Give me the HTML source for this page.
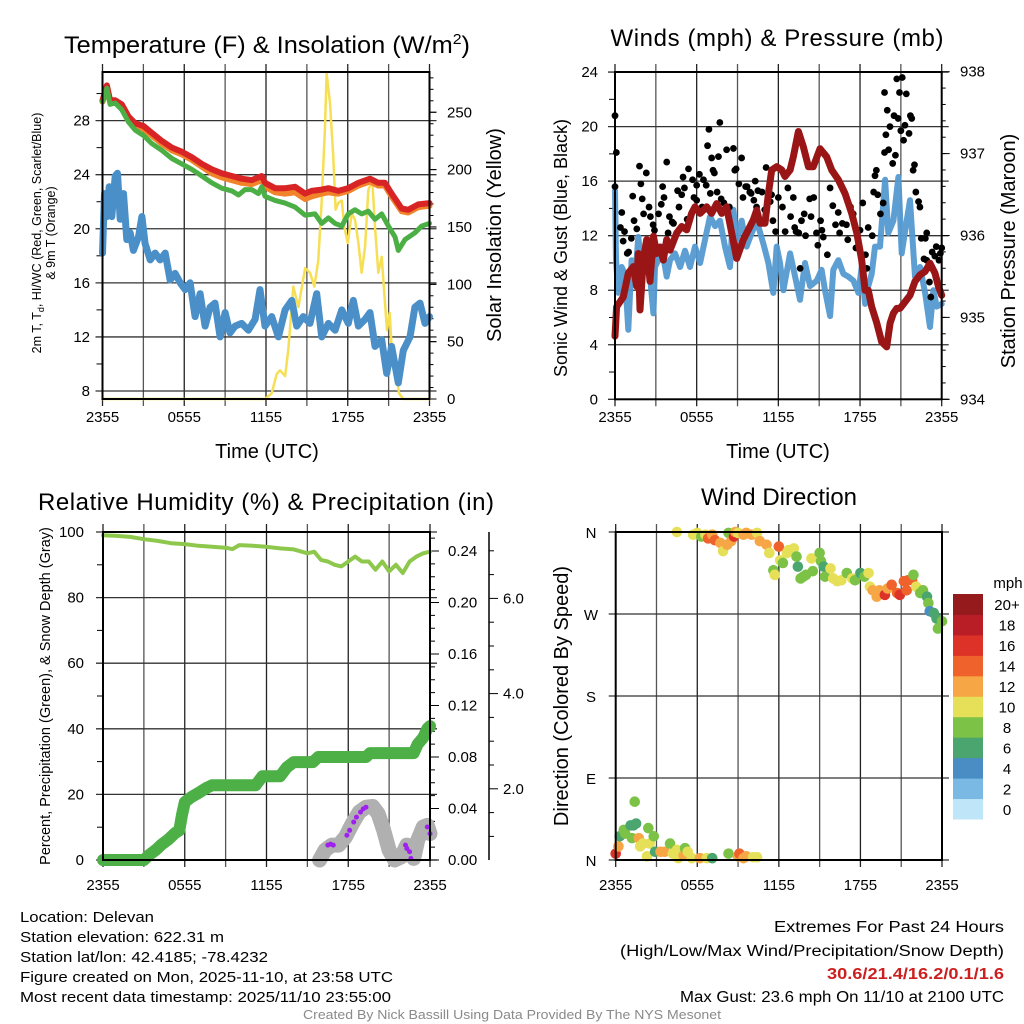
<!DOCTYPE html>
<html><head><meta charset="utf-8"><title>Delevan Mesonet Meteogram</title>
<style>
html,body{margin:0;padding:0;background:#fff;}
svg{display:block;font-family:"Liberation Sans",Arial,sans-serif;}
</style></head>
<body>
<svg id="chart" width="1024" height="1024" viewBox="0 0 1024 1024" xmlns="http://www.w3.org/2000/svg"></svg>
<script>
// ---------------- DATA ----------------
const tempRedHour = [0,.32,.56,.93,1.42,1.91,2.40,3.01,3.62,4.35,5.09,5.82,6.55,7.29,8.02,8.75,9.49,10.22,10.95,11.69,11.93,12.67,13.40,14.13,14.87,15.35,16.09,16.58,17.31,18.04,18.78,19.63,20.24,20.73,21.22,21.96,22.44,23.18,24];
const tempRed = [29.5,30.6,29.5,29.5,29.2,28.3,27.8,27.6,27.1,26.5,26.0,25.7,25.3,24.8,24.4,24.1,23.9,23.7,23.6,23.9,23.4,23.0,23.0,23.1,22.6,22.8,22.9,23.0,22.8,23.0,23.4,23.7,23.4,23.4,22.6,21.5,21.4,21.8,21.9];
const tempOrange = [29.4,30.4,29.4,29.4,29.1,28.2,27.6,27.4,26.9,26.3,25.8,25.5,25.1,24.6,24.1,23.8,23.6,23.4,23.3,23.6,23.1,22.7,22.6,22.7,22.2,22.4,22.6,22.7,22.6,22.8,23.2,23.5,23.2,23.2,22.4,21.3,21.2,21.6,21.7];
const tempGreenHour = [0,.32,.56,.93,1.42,1.91,2.40,3.01,3.62,4.35,5.09,5.82,6.55,7.29,8.02,8.75,9.49,9.98,10.46,10.95,11.44,11.69,11.93,12.67,13.40,14.13,14.87,15.60,16.09,16.58,17.07,17.56,18.04,18.53,19.02,19.51,20.0,20.49,20.98,21.47,21.71,22.20,22.93,23.42,24];
const tempGreen = [29.4,30.4,29.2,29.3,28.8,27.9,27.3,26.9,26.3,25.8,25.2,24.8,24.4,23.9,23.4,23.0,22.8,22.5,22.9,22.9,22.6,23.1,22.4,22.1,21.9,21.6,21.0,21.1,20.4,20.8,20.4,20.2,21.1,21.4,21.1,21.3,20.7,21.1,20.2,19.4,18.4,19.2,19.7,20.2,20.4];
const dewHour = [0,.15,.32,.49,.68,.93,1.10,1.30,1.54,1.78,2.03,2.27,2.64,2.89,3.13,3.50,3.86,4.23,4.60,4.96,5.33,5.70,6.06,6.43,6.80,7.16,7.53,7.90,8.26,8.63,9.0,9.36,9.73,10.22,10.71,11.20,11.56,11.93,12.42,12.91,13.40,13.89,14.25,14.74,15.23,15.72,16.09,16.58,17.07,17.56,18.04,18.41,18.78,19.27,19.63,20.0,20.49,20.86,21.22,21.71,22.08,22.57,22.93,23.30,23.67,24];
const dewPoint = [18.2,22.6,20.9,23.1,20.9,23.9,24.1,20.7,22.6,19.2,19.7,18.4,19.4,20.9,18.9,17.7,18.2,17.7,18.2,16.2,16.7,16.0,15.5,16.0,13.5,15.2,12.8,14.2,14.5,12.0,13.8,12.3,12.8,13.0,12.5,13.3,15.5,12.8,13.5,12.0,14.0,14.7,12.8,13.5,13.0,15.2,12.0,13.0,12.5,14.0,13.0,14.7,12.8,13.3,13.8,11.3,11.8,9.3,11.3,8.6,11.0,12.0,14.2,14.5,13.0,13.5];
const solarHour = [0,11.93,12.42,12.79,13.03,13.40,13.64,14.0,14.38,14.87,15.23,15.55,15.84,16.09,16.33,16.45,16.70,16.94,17.11,17.31,17.56,17.75,18.0,18.29,18.53,18.78,19.02,19.27,19.51,19.80,20.0,20.24,20.49,20.68,20.88,21.08,21.30,21.59,21.76,22.08,24];
const solar = [0,0,5,22,25,20,43,98,80,114,110,98,121,173,237,284,258,211,165,171,173,150,136,162,156,136,110,133,182,191,150,110,124,92,60,75,28,20,5,0,0];
const p1TempTicks = [8,12,16,20,24,28];
const p1SolarTicks = [0,50,100,150,200,250];
const timeTickHours = [0,6,12,18,24];
const timeTickLabels = ["2355","0555","1155","1755","2355"];

const windHour = [0,.07,.24,.49,.73,.98,1.22,1.47,1.71,1.96,2.33,2.82,2.94,3.18,3.43,3.80,4.04,4.41,4.78,5.14,5.51,5.88,6.25,6.61,6.98,7.35,7.71,8.08,8.45,8.69,8.94,9.31,9.67,10.04,10.41,10.90,11.27,11.63,11.88,12.12,12.37,12.86,13.23,13.59,13.96,14.33,14.82,15.18,15.43,15.80,16.04,16.41,16.78,17.14,17.51,17.88,18.12,18.37,18.61,18.86,19.10,19.47,19.84,20.08,20.45,20.82,21.06,21.43,21.67,22.04,22.41,22.78,23.14,23.39,23.63,24];
const windSpeed = [15.3,10.2,7.8,9.7,9.2,5.1,10.2,8.7,11.9,9.7,11.7,6.3,9.7,10.2,11.2,9.0,10.2,10.7,9.7,10.9,9.7,11.2,10.0,11.7,13.4,12.7,13.1,11.2,9.7,13.9,11.7,13.1,11.2,12.2,13.1,11.4,10.0,7.8,11.2,10.0,8.0,10.7,9.0,7.3,10.0,8.3,8.7,9.5,8.0,6.1,9.5,10.2,9.2,9.0,8.7,7.8,9.7,7.0,8.3,9.2,11.2,11.2,16.1,12.2,13.1,16.3,10.7,13.1,14.6,9.0,9.7,7.8,5.3,8.0,6.8,7.0];
const gustHour = [0,0.1,0,0.4,0.5,0.6,0.7,0.9,1.0,1.2,1.3,1.4,1.6,1.8,1.9,2.0,2.1,2.3,2.5,2.6,2.8,2.9,3.2,3.4,3.5,3.6,3.8,3.9,4.0,4.2,4.3,4.6,4.7,4.9,5.0,5.1,5.3,5.4,5.7,5.8,6.0,6.0,6.2,6.4,6.5,6.7,6.8,6.9,7.0,7.1,7.2,7.3,7.5,7.6,7.7,7.8,8.0,8.2,8.4,8.7,8.8,8.9,9.1,9.3,9.4,9.6,9.7,9.9,10.0,10.2,10.3,10.4,10.5,10.8,11.0,11.1,11.4,11.5,11.6,11.8,12.0,12.3,12.5,12.7,12.9,13.1,13.2,13.3,13.5,13.6,13.7,13.9,14.0,14.3,14.4,14.6,14.8,14.9,15.1,15.2,15.3,15.6,15.8,16.0,16.2,16.4,16.5,16.7,17.0,17.1,17.3,17.5,17.7,17.8,18.0,18.2,18.4,18.5,18.6,18.9,19.0,19.1,19.2,19.3,19.5,19.7,19.8,19.8,19.9,20.0,20.1,20.2,20.4,20.5,20.6,20.7,20.8,20.9,21.0,21.1,21.2,21.3,21.4,21.6,21.7,21.8,21.9,22.0,22.1,22.3,22.4,22.5,22.7,22.8,22.9,22.9,23.1,23.2,23.3,23.5,23.6,23.8,23.9,24.0];
const gustSpeed = [20.8,18.1,15.6,12.6,13.7,11.6,12.3,10.7,10.8,11.8,14.9,13.1,12.5,17.1,15.8,14.7,13.6,16.6,14.1,13.4,12.8,12.4,13.6,14.3,15.6,14.8,17.4,12.2,13.4,13.0,12.9,15.3,14.1,15.0,16.3,15.5,13.2,16.9,16.1,14.8,14.6,15.7,16.5,14.1,16.1,15.7,18.6,19.8,15.1,17.7,16.8,16.6,15.2,17.8,20.3,14.7,14.4,18.3,14.1,18.4,16.8,16.9,15.8,17.7,14.8,15.6,15.6,15.2,15.1,14.6,16.0,14.1,15.3,15.2,13.9,17.0,14.5,15.0,13.1,12.3,14.8,14.1,12.3,15.5,13.4,14.8,12.6,12.3,12.2,9.6,13.1,13.6,12.0,14.7,13.4,14.8,12.2,11.3,13.1,12.4,11.9,10.6,15.5,14.2,12.8,13.7,12.2,12.9,12.8,11.7,14.1,13.6,11.1,12.0,12.4,14.4,10.6,9.6,12.6,12.0,15.2,16.4,16.8,15.0,13.6,14.4,18.1,22.5,19.4,21.2,18.3,20.0,17.3,20.8,17.9,23.5,20.6,22.5,19.7,23.6,19.0,20.1,22.4,19.5,20.8,20.6,16.8,17.2,15.2,14.5,14.1,11.8,10.3,11.8,12.2,10.2,8.6,7.5,10.8,10.5,11.2,10.2,10.7,11.1];
const presHour = [0,.12,.61,.98,1.35,1.59,1.71,1.84,2.08,2.33,2.57,2.82,3.06,3.31,3.55,3.80,4.04,4.53,4.90,5.27,5.63,5.88,6.25,6.74,7.10,7.47,7.84,8.20,8.57,8.94,9.43,9.92,10.16,10.41,10.65,11.02,11.27,11.51,11.88,12.25,12.49,12.86,13.10,13.47,13.84,14.21,14.57,15.06,15.55,15.92,16.41,16.90,17.39,17.76,18.12,18.37,18.61,18.86,19.23,19.59,19.96,20.21,20.45,20.70,20.94,21.31,21.67,22.04,22.41,22.78,23.14,23.51,23.76,24];
const pressure = [934.77,935.13,935.25,935.54,935.62,935.38,935.78,935.09,935.70,935.95,935.44,935.99,935.78,935.86,935.70,935.95,935.82,936.03,936.11,936.07,936.27,936.35,936.27,936.35,936.27,936.39,936.27,936.35,936.03,935.72,935.95,936.11,936.19,936.31,936.15,936.15,936.51,936.80,936.84,936.80,936.72,936.80,936.96,937.27,937.08,936.84,936.84,937.06,936.96,936.80,936.68,936.51,936.27,936.03,935.70,935.33,935.33,935.13,934.93,934.70,934.64,934.93,935.05,935.11,935.11,935.19,935.27,935.44,935.52,935.56,935.66,935.54,935.38,935.27];
const windTicks = [0,4,8,12,16,20,24];
const presTicks = [934,935,936,937,938];

const rhHour = [0,1,2,3,4,5,6,7,8,9,9.5,10,11,12,13,14,15,15.5,16,16.5,17,17.5,18,18.5,19,19.5,20,20.5,21,21.5,22,22.5,23,23.5,24];
const rh = [99,98.8,98.5,97.8,97.3,96.6,96.3,95.8,95.5,95.2,94.8,96,95.8,95.5,95,94.7,93.5,94,91.5,91,90,89.5,91,92.5,91,91,88.5,91,88,90,87.5,91,92.5,93.5,94];
const precipHour = [0,3.0,3.4,3.9,4.3,4.8,5.3,5.6,5.8,6.0,6.5,7.0,7.6,8.0,11.2,11.7,13.0,13.5,14.0,15.4,15.8,19.3,19.6,22.8,23.1,23.5,23.8,24];
const precip = [0,0,0.004,0.008,0.012,0.016,0.021,0.023,0.035,0.045,0.049,0.052,0.056,0.058,0.058,0.065,0.065,0.072,0.076,0.076,0.080,0.080,0.083,0.083,0.090,0.095,0.102,0.104];
const snowHour = [15.9,16.3,16.8,17.3,17.8,18.3,18.8,19.3,19.8,20.2,20.6,21.0,21.4,21.9,22.3,22.8,23.1,23.5,23.8,24.0];
const snowDepth = [0,0.3,0.45,0.45,0.7,1.1,1.45,1.6,1.62,1.4,0.9,0.3,0,0.1,0.45,0.05,0.6,1.0,1.05,0.8];
const snowObsHour = [16.5,16.7,16.9,17.9,18.1,18.4,18.6,18.9,19.1,19.3,22.2,22.3,22.5,22.6,23.8,24.0];
const snowObs = [0.45,0.48,0.45,0.75,0.9,1.15,1.3,1.45,1.55,1.6,0.45,0.35,0.25,0.05,1.0,0.8];
const rhTicks = [0,20,40,60,80,100];
const precipTicks = [0,0.04,0.08,0.12,0.16,0.20,0.24];
const snowTickLabels = ["2.0","4.0","6.0"];

const dirHour = [0.0,0.2,0.3,0.6,0.7,1.1,1.2,1.3,1.5,1.4,1.7,1.8,2.0,2.3,2.4,2.5,2.8,2.9,3.3,3.6,4.0,4.2,4.5,4.6,5.0,5.1,5.3,5.6,6.2,6.7,7.1,8.3,9.0,9.1,9.4,9.6,10.1,10.4,
 4.5,5.7,6.0,6.3,6.6,6.8,7.1,7.3,7.7,7.9,8.2,8.3,8.5,8.7,8.8,9.0,9.4,9.6,10.0,10.4,10.6,11.1,11.3,11.6,11.7,12.0,12.1,12.3,12.6,12.7,13.1,13.3,13.4,13.6,13.8,14.0,14.4,14.5,15.0,15.1,15.3,15.4,15.8,16.0,16.3,16.6,17.0,17.4,17.6,18.0,18.3,18.6,18.7,18.9,19.2,19.4,19.8,20.0,20.3,20.7,20.9,21.2,21.4,21.5,21.8,21.9,22.1,22.4,22.6,22.9,23.0,23.1,23.4,23.6,23.7,24.0];
const dirDeg = [7,15,26,33,29,38,24,38,40,64,24,15,18,4,35,18,26,9,9,9,18,7,11,2,5,13,9,2,2,2,2,7,4,7,2,4,3,3,
 360,357,359,355,357,353,357,351,348,339,346,359,350,355,360,359,357,359,357,359,350,346,337,318,313,344,329,326,337,340,342,333,322,309,311,313,331,317,337,328,322,311,320,309,306,307,315,309,307,315,311,315,300,296,289,296,291,298,302,293,291,306,296,307,307,313,300,293,296,289,282,273,271,265,254,262];
const dirSpeed = [16,12,6,8,8,6,8,6,6,8,13,10,10,10,8,10,8,6,12,13,8,10,10,10,12,8,10,10,12,10,6,8,12,14,12,12,10,10,
 10,10,10,8,10,14,12,14,12,10,12,8,12,16,12,10,12,12,12,10,12,12,10,8,10,14,10,8,10,10,10,8,6,8,8,8,10,8,8,8,6,8,10,10,10,10,8,10,8,6,8,10,10,12,12,12,16,12,14,14,16,14,14,14,14,8,10,8,8,6,8,4,6,6,8,8];
const dirTickDeg = [0,90,180,270,360];
const dirTickLabels = ["N","E","S","W","N"];
const speedBinLabels = ["0","2","4","6","8","10","12","14","16","18","20+"];
const speedBinColors = ["#bfe6f8","#7ab9e3","#4a8cc4","#4aa56f","#7cc246","#e6e058","#f6a645","#ef622b","#dd3227","#b91d25","#941a1c"];

// ---------------- DRAWING ----------------
const NS = "http://www.w3.org/2000/svg";
const svg = document.getElementById('chart');
function mk(tag, attrs, parent){
  const e = document.createElementNS(NS, tag);
  for (const k in attrs) e.setAttribute(k, attrs[k]);
  (parent || svg).appendChild(e);
  return e;
}
function txt(x, y, s, size, anchor, parent){
  const t = mk('text', {x:x, y:y, 'font-size':size, 'text-anchor':anchor||'middle', fill:'#000'}, parent);
  t.textContent = s;
  return t;
}
function poly(pts){ return pts.map(p => p[0].toFixed(1)+','+p[1].toFixed(1)).join(' '); }

const P1 = {x0:102.5, x1:429.5, y0:72, y1:399};
const P2 = {x0:615, x1:941.7, y0:72, y1:399.3};
const P3 = {x0:103, x1:430, y0:532, y1:860};
const P4 = {x0:615.7, x1:942, y0:532, y1:860};
const hx = (P, h) => P.x0 + h * (P.x1 - P.x0) / 24;
const tempY = v => 391 - (v - 8) * 13.52;
const solY = v => 399 - v * 1.147;
const mphY = v => 399.3 - v * 13.635;
const presY = v => 399.3 - (v - 934) * 81.9;
const pctY = v => 860 - v * 3.28;
const precY = v => 860 - v * 1287.5;
const snowY = v => 860 - v * 33;
const snowAxisY = v => 884 - v * 47.6;
const degY = v => 860 - v * 0.9111;

function grid(P, name, hTicksY){
  const g = mk('g', {});
  
  
  for (let h = 0; h <= 24; h += 3){
    const x = hx(P, h);
    const l = mk('line', {x1:x, x2:x, y1:P.y0-8, y2:P.y1+7, stroke:(h%6==0?'#222':'#555'), 'stroke-width':1.3}, g);
    
    
  }
  hTicksY.forEach(y => {
    const l = mk('line', {x1:P.x0-7, x2:P.x1+7, y1:y, y2:y, stroke:'#333', 'stroke-width':1.3}, g);
    
    
  });
  return g;
}
function frame(P, name){
  const r = mk('rect', {x:P.x0, y:P.y0, width:P.x1-P.x0, height:P.y1-P.y0, fill:'none', stroke:'#000', 'stroke-width':2});
  
  
}
function timeLabels(P, y, name){
  timeTickHours.forEach((h, i) => {
    const t = txt(hx(P, h), y, timeTickLabels[i], 15);
    
    
  });
}
function tickMark(x1, y1, x2, y2, name){
  const l = mk('line', {x1:x1, y1:y1, x2:x2, y2:y2, stroke:'#000', 'stroke-width':1});
  
  
}
function drawLine(xs, ys, color, w, name, opacity){
  const p = mk('polyline', {points: poly(xs.map((x, i) => [x, ys[i]])), fill:'none', stroke:color, 'stroke-width':w, 'stroke-linejoin':'round', 'stroke-linecap':'round', opacity: opacity||1});
  
  
  return p;
}

// ===== Panel 1 =====
grid(P1, 'temp-panel', p1TempTicks.map(tempY));
for (let v = 10; v <= 30; v += 4) tickMark(P1.x0-6, tempY(v), P1.x0, tempY(v), 'temp-minor-tick');
for (let v = 10; v <= 280; v += 10){ const maj = v % 50 == 0; tickMark(P1.x1, solY(v), P1.x1 + (maj?7:4), solY(v), 'solar-tick'); }
p1SolarTicks.forEach(v => tickMark(P1.x1, solY(v), P1.x1+7, solY(v), 'solar-major-tick'));
drawLine(solarHour.map(h => hx(P1, h)), solar.map(solY), '#f6df55', 2.5, 'solar-insolation-line');
drawLine(dewHour.map(h => hx(P1, h)), dewPoint.map(tempY), '#4a8fc7', 7, 'dewpoint-line');
drawLine(tempRedHour.map(h => hx(P1, h)), tempOrange.map(tempY), '#f1842a', 6, 'temp-9m-orange-line');
drawLine(tempRedHour.map(h => hx(P1, h)), tempRed.map(tempY), '#d82424', 6, 'temp-2m-red-line');
drawLine(tempGreenHour.map(h => hx(P1, h)), tempGreen.map(tempY), '#4caf46', 5, 'heat-index-green-line');
frame(P1, 'temp-panel');
p1TempTicks.forEach(v => { const t = txt(90, tempY(v)+5, String(v), 15, 'end');   });
p1SolarTicks.forEach(v => { const t = txt(447, solY(v)+5, String(v), 15, 'start');   });
timeLabels(P1, 422, 'temp-panel');
let t;
t = mk('text', {x:267, y:53, 'font-size':24, 'text-anchor':'middle', textLength:406, lengthAdjust:'spacingAndGlyphs'});
t.innerHTML = 'Temperature (F) &amp; Insolation (W/m<tspan dy="-9" font-size="15">2</tspan><tspan dy="9">)</tspan>';


t = txt(267, 458, 'Time (UTC)', 20);


t = mk('text', {x:0, y:0, 'font-size':12.5, 'text-anchor':'middle', transform:'translate(41,233) rotate(-90)'});
t.innerHTML = '2m T, T<tspan dy="3" font-size="9">d</tspan><tspan dy="-3">, HI/WC (Red, Green, Scarlet/Blue)</tspan>';


t = mk('text', {x:0, y:0, 'font-size':12.5, 'text-anchor':'middle', transform:'translate(55,233) rotate(-90)'});
t.textContent = '& 9m T (Orange)';


t = mk('text', {x:0, y:0, 'font-size':20, 'text-anchor':'middle', transform:'translate(501,235) rotate(-90)'});
t.textContent = 'Solar Insolation (Yellow)';



// ===== Panel 2 =====
grid(P2, 'wind-panel', windTicks.map(mphY));
for (let v = 2; v <= 22; v += 4) tickMark(P2.x0-6, mphY(v), P2.x0, mphY(v), 'wind-minor-tick');
for (let v = 934.2; v < 938; v += 0.2) tickMark(P2.x1, presY(v), P2.x1+4, presY(v), 'pressure-minor-tick');
presTicks.forEach(v => tickMark(P2.x1, presY(v), P2.x1+8, presY(v), 'pressure-major-tick'));
drawLine(windHour.map(h => hx(P2, h)), windSpeed.map(mphY), '#5499d1', 6, 'sonic-wind-line', 0.95);
gustHour.forEach((h, i) => {
  const c = mk('circle', {cx:hx(P2, h), cy:mphY(gustSpeed[i]), r:3.4, fill:'#000'});
  
  
});
drawLine(presHour.map(h => hx(P2, h)), pressure.map(presY), '#9a1616', 7, 'pressure-line');
frame(P2, 'wind-panel');
windTicks.forEach(v => { const e = txt(598, mphY(v)+5, String(v), 15, 'end');   });
presTicks.forEach(v => { const e = txt(960, presY(v)+5, String(v), 15, 'start');   });
timeLabels(P2, 422, 'wind-panel');
t = txt(777, 46, 'Winds (mph) & Pressure (mb)', 24);
t.setAttribute('textLength', 333);


t = txt(778, 458, 'Time (UTC)', 20);


t = mk('text', {x:0, y:0, 'font-size':18, 'text-anchor':'middle', transform:'translate(567,248) rotate(-90)'});
t.textContent = 'Sonic Wind & Gust (Blue, Black)';


t = mk('text', {x:0, y:0, 'font-size':20, 'text-anchor':'middle', transform:'translate(1015,251) rotate(-90)'});
t.textContent = 'Station Pressure (Maroon)';



// ===== Panel 3 =====
grid(P3, 'humidity-panel', rhTicks.map(pctY));
for (let v = 10; v <= 90; v += 20) tickMark(P3.x0-6, pctY(v), P3.x0, pctY(v), 'rh-minor-tick');
for (let v = 0.01; v < 0.255; v += 0.01) tickMark(P3.x1, precY(v), P3.x1+5, precY(v), 'precip-minor-tick');
precipTicks.forEach(v => tickMark(P3.x1, precY(v), P3.x1+9, precY(v), 'precip-major-tick'));
t = mk('line', {x1:489, x2:489, y1:532, y2:860, stroke:'#000', 'stroke-width':1.5});


for (let v = 0.5; v <= 7; v += 0.5){ const y = snowAxisY(v); if (y >= 532 && y <= 860) tickMark(489, y, 489 + (v % 2 == 0 ? 9 : 5), y, 'snow-tick'); }
drawLine(precipHour.map(h => hx(P3, h)), precip.map(precY), '#4cb046', 12, 'precipitation-line');
drawLine(snowHour.map(h => hx(P3, h)), snowDepth.map(snowY), '#b0b0b0', 15, 'snow-depth-line');
snowObsHour.forEach((h, i) => {
  const c = mk('circle', {cx:hx(P3, h), cy:snowY(snowObs[i]), r:2.5, fill:'#a020f0'});
  
  
});
drawLine(rhHour.map(h => hx(P3, h)), rh.map(pctY), '#8dc84d', 4, 'relative-humidity-line');
frame(P3, 'humidity-panel');
rhTicks.forEach(v => { const e = txt(84, pctY(v)+5, String(v), 15, 'end');   });
precipTicks.forEach(v => { const e = txt(448, precY(v)+5, v.toFixed(2), 15, 'start');   });
snowTickLabels.forEach(s => { const e = txt(503, snowAxisY(parseFloat(s))+5, s, 15, 'start');   });
timeLabels(P3, 890, 'humidity-panel');
t = txt(266, 510, 'Relative Humidity (%) & Precipitation (in)', 24);
t.setAttribute('textLength', 456);


t = mk('text', {x:0, y:0, 'font-size':14.5, 'text-anchor':'middle', transform:'translate(50,696) rotate(-90)'});
t.textContent = 'Percent, Precipitation (Green), & Snow Depth (Gray)';



// ===== Panel 4 =====
grid(P4, 'direction-panel', dirTickDeg.map(degY));
dirHour.forEach((h, i) => {
  const bin = Math.min(10, Math.floor(dirSpeed[i] / 2));
  const c = mk('circle', {cx:hx(P4, h), cy:degY(dirDeg[i]), r:5.3, fill:speedBinColors[bin]});
  
  
});
frame(P4, 'direction-panel');
dirTickDeg.forEach((d, i) => { const e = txt(591, degY(d)+6, dirTickLabels[i], 15, 'middle');   });
timeLabels(P4, 890, 'direction-panel');
t = txt(779, 505, 'Wind Direction', 24);


t = mk('text', {x:0, y:0, 'font-size':20, 'text-anchor':'middle', transform:'translate(568,696) rotate(-90)'});
t.textContent = 'Direction (Colored By Speed)';


const cbX = 953, cbW = 30, cbTop = 594, cbBot = 819;
const cbH = (cbBot - cbTop) / speedBinColors.length;
speedBinColors.forEach((c, i) => {
  const y = cbBot - (i + 1) * cbH;
  const r = mk('rect', {x:cbX, y:y, width:cbW, height:cbH + 0.5, fill:c});
  
  
  const e = txt(1007, y + cbH/2 + 6, speedBinLabels[i], 15, 'middle');
  
  
});
t = txt(1008, 588, 'mph', 15, 'middle');



// ===== Footer text =====
const leftLines = ['Location: Delevan','Station elevation: 622.31 m','Station lat/lon: 42.4185; -78.4232','Figure created on Mon, 2025-11-10, at 23:58 UTC','Most recent data timestamp: 2025/11/10 23:55:00'];
const leftWidths = [134,204,248,373,371];
const leftNames = ['location-text','elevation-text','latlon-text','created-text','timestamp-text'];
leftLines.forEach((s, i) => {
  const e = mk('text', {x:20, y:922 + i*20, 'font-size':15, textLength:leftWidths[i], lengthAdjust:'spacingAndGlyphs'});
  e.textContent = s;
  
  
});
const rightLines = [['Extremes For Past 24 Hours',932,230,'#000','normal','extremes-title'],['(High/Low/Max Wind/Precipitation/Snow Depth)',956,384,'#000','normal','extremes-legend'],['30.6/21.4/16.2/0.1/1.6',979,177,'#cc1f1f','bold','extremes-values'],['Max Gust: 23.6 mph On 11/10 at 2100 UTC',1002,324,'#000','normal','max-gust-text']];
rightLines.forEach(r => {
  const e = mk('text', {x:1004, y:r[1], 'font-size':15.5, 'text-anchor':'end', fill:r[3], 'font-weight':r[4], textLength:r[2], lengthAdjust:'spacingAndGlyphs'});
  e.textContent = r[0];
  
  
});
t = mk('text', {x:512, y:1019, 'font-size':12.5, 'text-anchor':'middle', fill:'#8a8a8a', textLength:418, lengthAdjust:'spacingAndGlyphs'});
t.textContent = 'Created By Nick Bassill Using Data Provided By The NYS Mesonet';


</script>
</body></html>
